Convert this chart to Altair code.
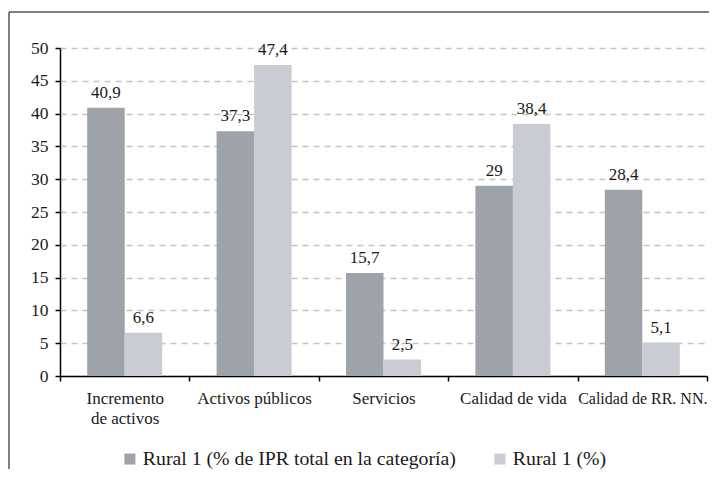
import altair as alt
import pandas as pd

categories = ["Incremento de activos", "Activos públicos", "Servicios",
              "Calidad de vida", "Calidad de RR. NN."]
series_names = ["Rural 1 (% de IPR total en la categoría)", "Rural 1 (%)"]
rural_ipr = [40.9, 37.3, 15.7, 29, 28.4]
rural_pct = [6.6, 47.4, 2.5, 38.4, 5.1]
y_ticks = [0, 5, 10, 15, 20, 25, 30, 35, 40, 45, 50]
colors = ["#9EA3A9", "#C9CCD3"]

rows = []
for c, a, b in zip(categories, rural_ipr, rural_pct):
    for s, v in zip(series_names, [a, b]):
        rows.append({"cat": c, "serie": s, "valor": v,
                     "etiqueta": f"{v:g}".replace(".", ",")})
df = pd.DataFrame(rows)

FONT = "Liberation Serif"
W, H = 647, 328

x = alt.X("cat:N", sort=categories,
          scale=alt.Scale(paddingInner=0, paddingOuter=0),
          axis=alt.Axis(title=None, labelAngle=0, tickBand="extent",
                        labelFontSize={"condition": {"test": "datum.label == 'Calidad de RR. NN.'", "value": 16},
                                       "value": 17},
                        labelFont=FONT, labelColor="#1a1a1a",
                        labelPadding=9, tickSize=5, tickColor="#000",
                        tickWidth=1.5, domainColor="#000", domainWidth=1.5,
                        labelLineHeight=20, grid=False, labelLimit=0,
                        labelExpr="datum.label == 'Incremento de activos' ? ['Incremento', 'de activos'] : datum.label"))
xoff = alt.XOffset("serie:N", sort=series_names,
                   scale=alt.Scale(paddingInner=0, paddingOuter=0.725))
y = alt.Y("valor:Q", scale=alt.Scale(domain=[0, 50], nice=False),
          axis=alt.Axis(title=None, values=y_ticks, labelFontSize=17.5,
                        labelFont=FONT, labelColor="#1a1a1a", tickSize=5,
                        tickColor="#000", tickWidth=1.5, domainColor="#000",
                        domainWidth=1.5, labelPadding=7, gridDash=[6, 5],
                        gridColor="#C4C4C4", gridWidth=1.3))

bars = alt.Chart(df).mark_bar().encode(
    x=x, xOffset=xoff, y=y,
    color=alt.Color("serie:N", sort=series_names,
                    scale=alt.Scale(domain=series_names, range=colors),
                    legend=alt.Legend(title=None, orient="none", legendX=60,
                                      legendY=401, direction="horizontal",
                                      symbolType="square", symbolSize=121,
                                      symbolStrokeWidth=0, labelFont=FONT,
                                      labelFontSize=19.8, labelColor="#1a1a1a",
                                      labelOffset=3, columnPadding=34,
                                      labelLimit=0, padding=0)))

text = alt.Chart(df).mark_text(font=FONT, fontSize=17, dy=-10,
                               baseline="alphabetic", color="#1a1a1a").encode(
    x=x, xOffset=xoff, y=y, text="etiqueta:N")

frame_top = alt.Chart(alt.Data(values=[{"a": 1}])).mark_rule(
    stroke="#555555", strokeWidth=1.5).encode(
    x=alt.value(-51), x2=alt.value(660), y=alt.value(-36))
frame_left = alt.Chart(alt.Data(values=[{"a": 1}])).mark_rule(
    stroke="#555555", strokeWidth=1.5).encode(
    x=alt.value(-51), y=alt.value(-36), y2=alt.value(440))

chart = alt.layer(frame_top, frame_left, bars, text).properties(
    width=W, height=H,
    autosize=alt.AutoSizeParams(type="none"),
    padding={"left": 52, "top": 40, "right": 2, "bottom": 93},
).configure_view(stroke=None)

chart.save("out.html", embed_options={"renderer": "svg", "actions": False})
